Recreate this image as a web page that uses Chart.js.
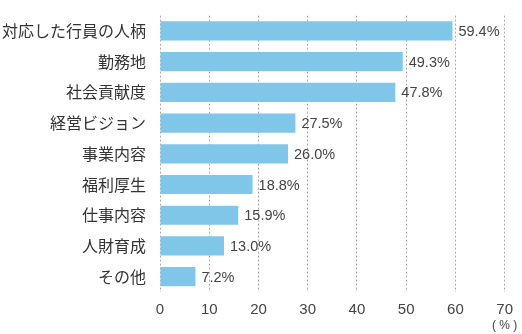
<!DOCTYPE html>
<html>
<head>
<meta charset="utf-8">
<script src="https://cdn.jsdelivr.net/npm/chart.js@4"></script>
<style>
  html, body { margin: 0; padding: 0; background: #fff; }
  #wrap { width: 522px; height: 334px; position: relative; }
</style>
</head>
<body>
<div id="wrap"><canvas id="c"></canvas></div>
<script>
const categories = ['対応した行員の人柄', '勤務地', '社会貢献度', '経営ビジョン', '事業内容', '福利厚生', '仕事内容', '人財育成', 'その他']
const values = [59.4, 49.3, 47.8, 27.5, 26.0, 18.8, 15.9, 13.0, 7.2]
const xTicks = [0, 10, 20, 30, 40, 50, 60, 70]

const jpFont = "'Noto Sans CJK JP', 'Noto Sans', sans-serif"
const numFont = "'Liberation Sans', Arial, sans-serif"

// 棒の右に値、70の下に(%)を描く
const labelPlugin = {
  id: 'valueLabels',
  afterDatasetsDraw(chart) {
    const ctx = chart.ctx
    const meta = chart.getDatasetMeta(0)
    ctx.save()
    ctx.font = '14.5px ' + numFont
    ctx.fillStyle = '#444'
    ctx.textBaseline = 'middle'
    ctx.textAlign = 'left'
    meta.data.forEach((bar, i) => {
      ctx.fillText(values[i].toFixed(1) + '%', bar.x + 6, bar.y + 1)
    })
    const xs = chart.scales.x
    ctx.font = '12px ' + numFont
    ctx.textAlign = 'center'
    ctx.fillText('( % )', xs.getPixelForValue(70), 326)
    ctx.restore()
  }
}

new Chart(document.getElementById('c'), {
  type: 'bar',
  data: {
    labels: categories,
    datasets: [{
      data: values,
      backgroundColor: '#80c6e8',
      barPercentage: 0.625,
      categoryPercentage: 1.0
    }]
  },
  plugins: [labelPlugin],
  options: {
    indexAxis: 'y',
    responsive: true,
    maintainAspectRatio: false,
    animation: false,
    layout: { padding: { top: 4, right: 12, bottom: 0, left: 0 } },
    plugins: {
      legend: { display: false },
      tooltip: { enabled: false }
    },
    scales: {
      x: {
        min: 0,
        max: 70,
        afterBuildTicks: (s) => { s.ticks = xTicks.map(v => ({ value: v })) },
        afterFit: (s) => { s.height = 42 },
        grid: { color: '#aaa', drawTicks: false },
        border: { display: false, dash: [2, 2] },
        ticks: { padding: 9, color: '#444', font: { size: 15, family: numFont } }
      },
      y: {
        afterFit: (s) => { s.width = 160 },
        grid: { display: false },
        border: { display: false },
        ticks: { padding: 6, color: '#333', font: { size: 16, family: jpFont } }
      }
    }
  }
})
</script>
</body>
</html>
